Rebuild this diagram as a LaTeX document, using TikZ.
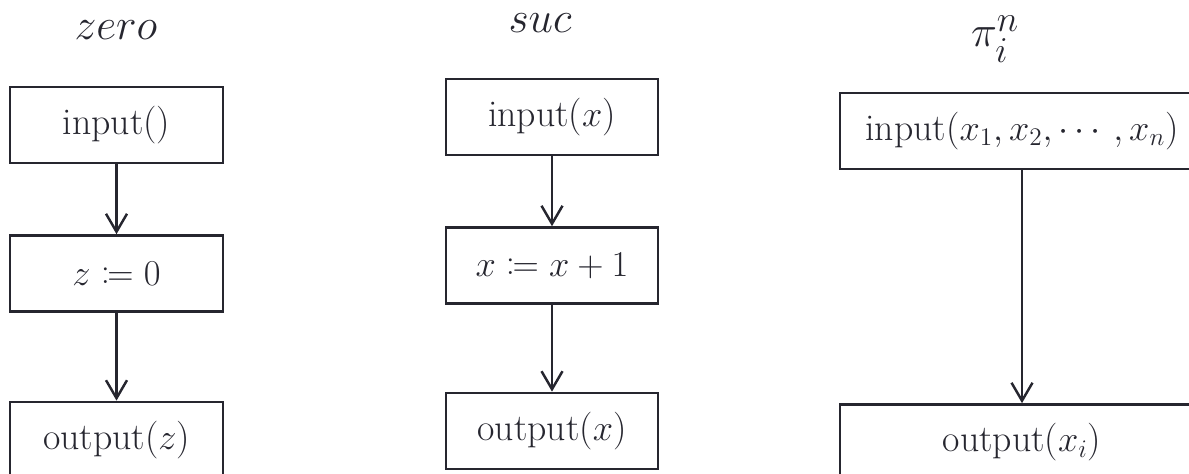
\documentclass[tikz,border=0pt]{standalone}
\usepackage{amsmath,amssymb,mathtools}
\usepackage{xcolor,tikz}
\usetikzlibrary{arrows.meta,positioning}
\definecolor{ink}{HTML}{26262F}

\tikzset{
  flowbox/.style={draw=ink,line width=1.4pt,minimum height=1.52cm,inner sep=0pt,text=ink,font=\fontsize{21.5}{25}\selectfont},
  flow/.style={-{Straight Barb[length=0.36cm,width=0.42cm]},line width=1.4pt,draw=ink},
  fntitle/.style={anchor=base,text=ink,font=\fontsize{30}{34}\selectfont}
}

\begin{document}
\begin{tikzpicture}[x=0.02cm,y=-0.02cm]
\useasboundingbox (0,0) rectangle (1189,473);
\clip (0,0) rectangle (1189,473);
% zero
\node[fntitle] (zerot) at (116,40) {$zero$};
\node[flowbox,minimum width=4.26cm] (zin) at (116.5,125) {input()};
\node[flowbox,minimum width=4.26cm,below=1.4cm of zin] (zset) {$z\coloneqq 0$};
\node[flowbox,minimum width=4.26cm,below=1.76cm of zset] (zout) {output($z$)};
\draw[flow] (zin)--(zset);
\draw[flow] (zset)--(zout);
% suc
\node[fntitle] (suct) at (540,33) {$suc$};
\node[flowbox,minimum width=4.24cm] (sin) at (552,117) {input($x$)};
\node[flowbox,minimum width=4.24cm,below=1.4cm of sin] (sset) {$x\coloneqq x+1$};
\node[flowbox,minimum width=4.24cm,below=1.74cm of sset] (sout) {output($x$)};
\draw[flow] (sin)--(sset);
\draw[flow] (sset)--(sout);
% projection
\node[fntitle,font=\fontsize{28}{32}\selectfont] (pit) at (995,47) {$\pi_i^n$};
\node[flowbox,minimum width=7.28cm] (pin) at (1022,131) {input($x_1,x_2,\cdots,x_n$)};
\node[flowbox,minimum width=7.28cm,below=4.66cm of pin] (pout) {output($x_i$)};
\draw[flow] (pin)--(pout);
\end{tikzpicture}
\end{document}
